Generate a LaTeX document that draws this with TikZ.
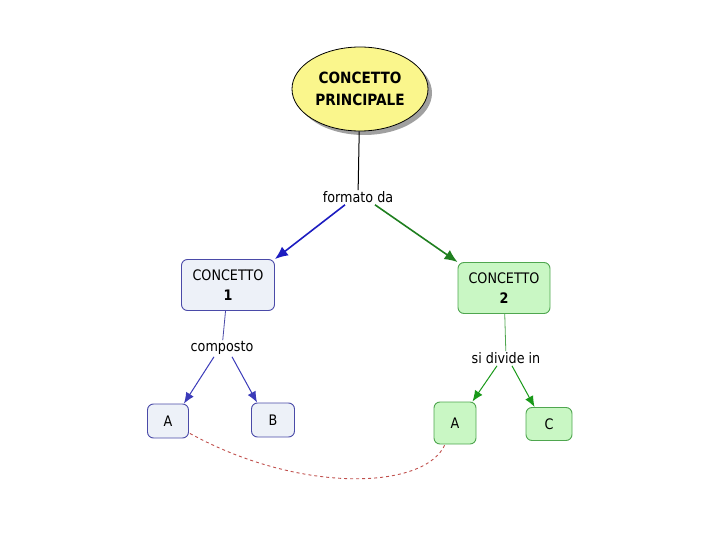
\documentclass[tikz,border=0pt]{standalone}
\usepackage{fontspec}
\setmainfont{DejaVu Sans}[FakeStretch=0.88]
\usepackage{tikz}
\usetikzlibrary{arrows.meta,shapes.geometric}
\usepackage{xcolor}
\definecolor{mainfill}{HTML}{FAF68C}
\definecolor{shade}{HTML}{A0A0A0}
\definecolor{onefill}{HTML}{EDF1F8}
\definecolor{oneline}{HTML}{4A4AA8}
\definecolor{onearrow}{HTML}{1C1CC0}
\definecolor{twofill}{HTML}{C9F7C4}
\definecolor{twoline}{HTML}{4FA64F}
\definecolor{twoarrow}{HTML}{1F7F1F}
\definecolor{crosslink}{HTML}{C0504D}

\begin{document}
\begin{tikzpicture}[x=1pt,y=-1pt,
		conceptone/.style={draw=oneline,fill=onefill,rounded corners=6pt,line width=0.9pt,align=center,inner sep=2pt,font=\fontsize{14.5}{20}\selectfont},
		concepttwo/.style={draw=twoline,fill=twofill,rounded corners=6pt,line width=0.9pt,align=center,inner sep=2pt,font=\fontsize{14.5}{20}\selectfont},
		linkword/.style={fill=white,inner sep=1pt,font=\fontsize{14.5}{17}\selectfont},
		bigtip/.style={-{Latex[length=13pt,width=11pt]}},
		smalltip/.style={-{Latex[length=11pt,width=9pt]}}]
		%
		\useasboundingbox (0,0) rectangle (720,540);
		%
		\fill [color=shade] (364,93) ellipse (68pt and 42pt);
		\node (main) [ellipse,draw=black,fill=mainfill,line width=0.8pt,minimum width=136pt,minimum height=84pt,inner sep=0pt,align=center,font=\bfseries\fontsize{15.5}{22}\selectfont] at (360,89) {CONCETTO\\PRINCIPALE};
		%
		\node (formato) [linkword] at (358,197) {formato da};
		\node (c1) [conceptone,minimum width=93pt,minimum height=51pt] at (228,285) {CONCETTO\\\textbf{1}};
		\node (c2) [concepttwo,minimum width=92pt,minimum height=51pt] at (504,288) {CONCETTO\\\textbf{2}};
		%
		\node (composto) [linkword] at (222,348) {composto};
		\node (a1) [conceptone,minimum width=41pt,minimum height=34pt] at (168,421) {A};
		\node (b1) [conceptone,minimum width=43pt,minimum height=34pt] at (273,420) {B};
		%
		\node (divide) [linkword] at (506,358) {si divide in};
		\node (a2) [concepttwo,minimum width=42pt,minimum height=42pt] at (455,423) {A};
		\node (c3) [concepttwo,minimum width=46pt,minimum height=33pt] at (549,424) {C};
		%
		\draw [line width=1pt,color=black] (main) -- (formato);
		\draw [bigtip,line width=1.6pt,color=onearrow] ([xshift=-13pt,yshift=-1pt]formato.south) -- (c1.north east);
		\draw [bigtip,line width=1.6pt,color=twoarrow] ([xshift=17pt,yshift=-1pt]formato.south) -- (c2.north west);
		%
		\draw [line width=0.8pt,color=oneline] (c1) -- (composto);
		\draw [smalltip,line width=1pt,color=oneline!80!blue] ([xshift=-8pt,yshift=-1pt]composto.south) -- ([xshift=-5pt]a1.north east);
		\draw [smalltip,line width=1pt,color=oneline!80!blue] ([xshift=10pt,yshift=-1pt]composto.south) -- ([xshift=6pt]b1.north west);
		%
		\draw [line width=0.8pt,color=twoline] (c2) -- (divide);
		\draw [smalltip,line width=1pt,color=twoarrow!80!green] ([xshift=-9pt,yshift=-1pt]divide.south) -- ([xshift=-4pt]a2.north east);
		\draw [smalltip,line width=1pt,color=twoarrow!80!green] ([xshift=6pt,yshift=-1pt]divide.south) -- ([xshift=9pt]c3.north west);
		%
		\draw [dashed,line width=0.9pt,color=crosslink] (a1.south east) ++(1,-5) .. controls (300,494) and (425,490) .. ([xshift=-10pt]a2.south);
	\end{tikzpicture}
\end{document}
